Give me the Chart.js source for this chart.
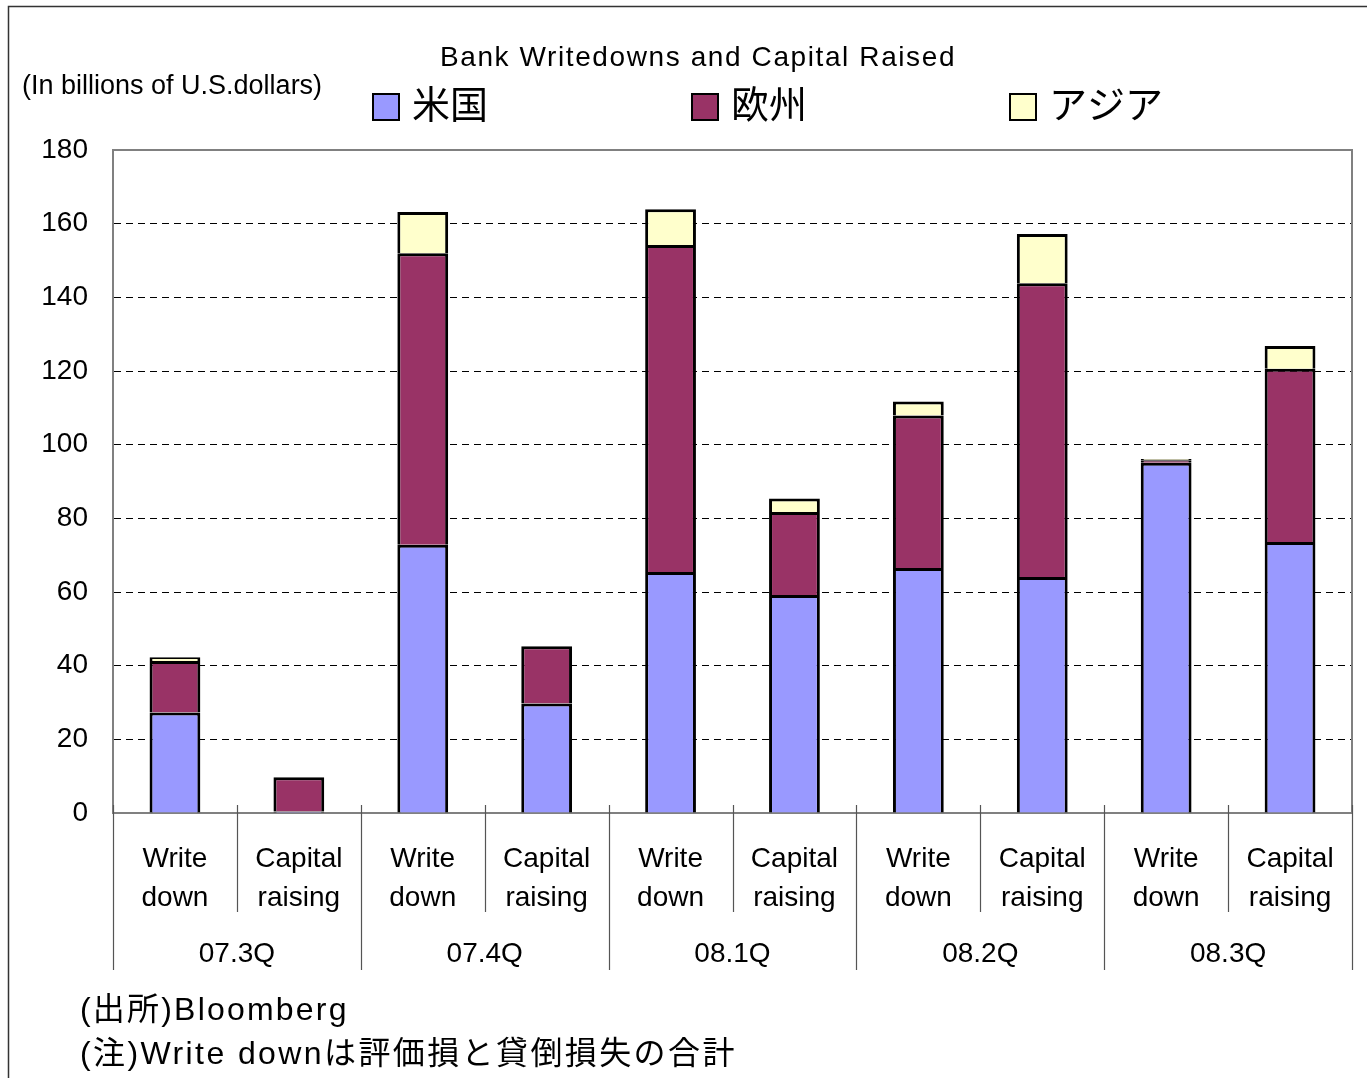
<!DOCTYPE html>
<html>
<head>
<meta charset="utf-8">
<script src="https://cdn.jsdelivr.net/npm/chart.js@4.4.1/dist/chart.umd.min.js"></script>
<style>
  html, body { margin: 0; padding: 0; background: #fff; }
  #wrap { position: relative; width: 1367px; height: 1078px; }
</style>
</head>
<body>
<div id="wrap"><canvas id="chart" width="1367" height="1078"></canvas></div>
<script>
// data (billions of US dollars)
const categories = [['Write', 'down'], ['Capital', 'raising'], ['Write', 'down'], ['Capital', 'raising'], ['Write', 'down'],
                    ['Capital', 'raising'], ['Write', 'down'], ['Capital', 'raising'], ['Write', 'down'], ['Capital', 'raising']];
const quarters = ['07.3Q', '07.4Q', '08.1Q', '08.2Q', '08.3Q'];
const seriesNames = ['米国', '欧州', 'アジア'];
const usValues     = [27.3, 0.4, 72.8, 29.7, 65.4, 59.2, 66.5, 64.1, 95.1, 73.6];
const europeValues = [14.0, 9.3, 79.2, 15.6, 88.8, 22.5, 41.4, 79.7, 0.7, 47.0];
const asiaValues   = [1.0, 0, 11.2, 0, 9.7, 3.7, 3.8, 13.4, 0.3, 6.2];
const yTicks = [0, 20, 40, 60, 80, 100, 120, 140, 160, 180];

const colors = ['#9999FF', '#993366', '#FFFFCC'];
const FONT = '"Liberation Sans", "Noto Sans CJK JP", sans-serif';

// texte, légende, séparateurs
const decorPlugin = {
    id: 'decor',
    afterDraw(chart) {
        const ctx = chart.ctx;
        const area = chart.chartArea;
        const xs = chart.scales.x;
        ctx.save();

        // cadre extérieur
        ctx.strokeStyle = '#333';
        ctx.lineWidth = 1.5;
        ctx.beginPath();
        ctx.moveTo(8.5, 1078);
        ctx.lineTo(8.5, 6.5);
        ctx.lineTo(1367, 6.5);
        ctx.stroke();

        // haut et droite du graphe
        ctx.strokeStyle = '#808080';
        ctx.lineWidth = 2;
        ctx.beginPath();
        ctx.moveTo(area.left, area.top);
        ctx.lineTo(area.right, area.top);
        ctx.lineTo(area.right, area.bottom);
        ctx.stroke();

        // séparateurs sous l'axe
        const step = (area.right - area.left) / categories.length;
        ctx.strokeStyle = '#555';
        ctx.lineWidth = 1.2;
        for (let i = 0; i <= categories.length; i++) {
            const x = Math.round(area.left + i * step) + 0.5;
            ctx.beginPath();
            ctx.moveTo(x, area.bottom - 8);
            ctx.lineTo(x, i % 2 === 0 ? 970 : 912);
            ctx.stroke();
        }

        ctx.fillStyle = '#000';
        ctx.textBaseline = 'middle';
        ctx.textAlign = 'center';
        ctx.font = '28px ' + FONT;
        quarters.forEach((q, i) => {
            const x = (xs.getPixelForValue(2 * i) + xs.getPixelForValue(2 * i + 1)) / 2;
            ctx.fillText(q, x, 954);
        });

        // titre
        ctx.letterSpacing = '1.6px';
        ctx.font = '28px ' + FONT;
        ctx.fillText('Bank Writedowns and Capital Raised', 698, 58);
        ctx.letterSpacing = '0px';

        ctx.textAlign = 'left';
        ctx.font = '27px ' + FONT;
        ctx.fillText('(In billions of U.S.dollars)', 22, 87);

        // légende
        const legendX = [373, 692, 1010];
        chart.data.datasets.forEach((ds, i) => {
            ctx.fillStyle = ds.backgroundColor;
            ctx.fillRect(legendX[i], 94, 26, 26);
            ctx.strokeStyle = '#000';
            ctx.lineWidth = 2;
            ctx.strokeRect(legendX[i], 94, 26, 26);
            ctx.fillStyle = '#000';
            ctx.font = '38px ' + FONT;
            ctx.fillText(ds.label, legendX[i] + 39, 108);
        });

        // notes
        ctx.font = '32px ' + FONT;
        ctx.letterSpacing = '2.2px';
        ctx.fillText('(出所)Bloomberg', 80, 1011);
        ctx.letterSpacing = '2.4px';
        ctx.fillText('(注)Write downは評価損と貸倒損失の合計', 80, 1055);

        ctx.restore();
    }
};

new Chart(document.getElementById('chart'), {
    type: 'bar',
    data: {
        labels: categories,
        datasets: [
            { label: seriesNames[0], data: usValues, backgroundColor: colors[0] },
            { label: seriesNames[1], data: europeValues, backgroundColor: colors[1] },
            { label: seriesNames[2], data: asiaValues, backgroundColor: colors[2] }
        ].map(ds => Object.assign(ds, {
            borderColor: '#000',
            borderWidth: 3,
            barPercentage: 0.41,
            categoryPercentage: 1
        }))
    },
    options: {
        responsive: false,
        animation: false,
        layout: { padding: { top: 150, right: 15, left: 0, bottom: 0 } },
        plugins: {
            legend: { display: false },
            title: { display: false },
            tooltip: { enabled: false }
        },
        scales: {
            x: {
                stacked: true,
                afterFit(scale) { scale.height = 265; },
                grid: { display: false },
                border: { display: true, color: '#808080', width: 2 },
                ticks: {
                    color: '#000',
                    padding: 19,
                    maxRotation: 0,
                    autoSkip: false,
                    font: { family: FONT, size: 28, lineHeight: 1.38 }
                }
            },
            y: {
                stacked: true,
                min: 0,
                max: 180,
                afterFit(scale) { scale.width = 113; },
                afterBuildTicks(scale) { scale.ticks = yTicks.map(v => ({ value: v })); },
                grid: { color: '#000', lineWidth: 1, drawTicks: false },
                border: { display: true, color: '#808080', width: 2, dash: [7, 5] },
                ticks: {
                    color: '#000',
                    padding: 25,
                    font: { family: FONT, size: 28 }
                }
            }
        }
    },
    plugins: [decorPlugin]
});
</script>
</body>
</html>
